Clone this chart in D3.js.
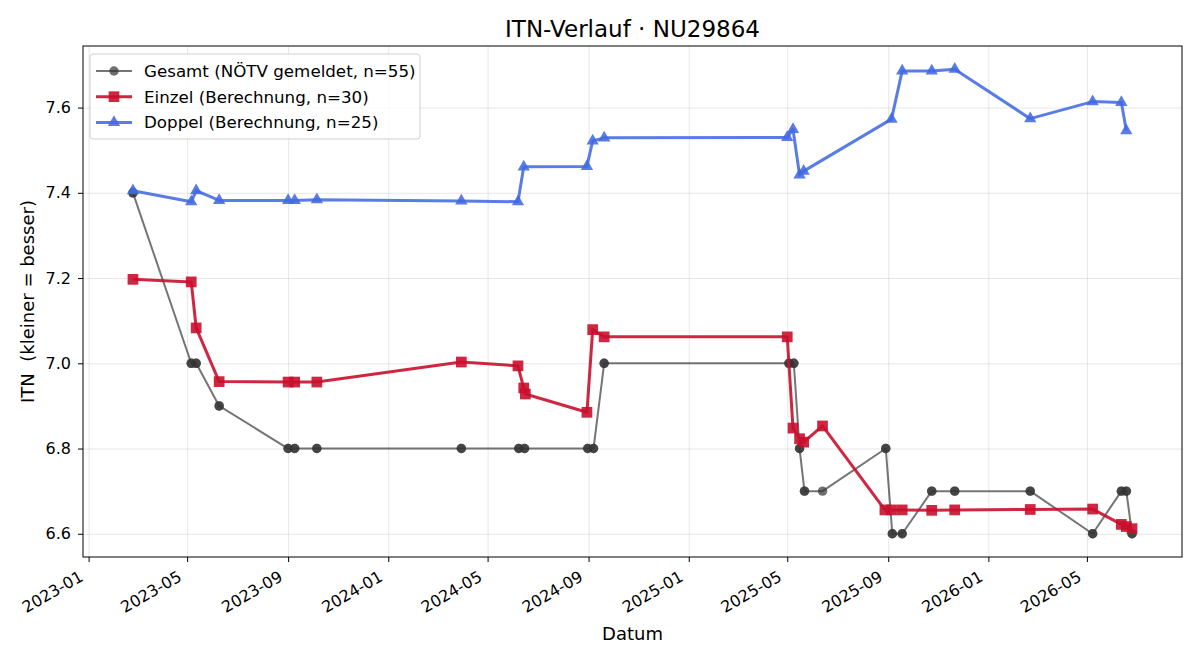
<!DOCTYPE html>
<html>
<head>
<meta charset="utf-8">
<script src="https://cdn.jsdelivr.net/npm/d3@7"></script>
<style>
    body { margin: 0; background: #fff; }
    text { font-family: "DejaVu Sans", sans-serif; fill: #000; }
    .grid line { stroke: #b0b0b0; stroke-opacity: 0.3; }
    .grid path { display: none; }
    .axis path, .axis line { stroke: #000; }
</style>
</head>
<body>
<div id="chart"></div>
<script>

// dates of the tournaments (shared by all series where present)
const gesamtDates = ["2023-02-24", "2023-05-06", "2023-05-12", "2023-06-09", "2023-09-01", "2023-09-09",
    "2023-10-06", "2024-03-30", "2024-06-08", "2024-06-15", "2024-08-31", "2024-09-07", "2024-09-20",
    "2025-05-03", "2025-05-09", "2025-05-16", "2025-05-22", "2025-06-13", "2025-08-29", "2025-09-06",
    "2025-09-18", "2025-10-24", "2025-11-21", "2026-02-21", "2026-05-08", "2026-06-12", "2026-06-18",
    "2026-06-25"];
const gesamtValues = [7.4, 7.0, 7.0, 6.9, 6.8, 6.8, 6.8, 6.8, 6.8, 6.8, 6.8, 6.8, 7.0, 7.0, 7.0, 6.8,
    6.7, 6.7, 6.8, 6.6, 6.6, 6.7, 6.7, 6.7, 6.6, 6.7, 6.7, 6.6];
// number of reported entries per date (singles + doubles on the same day)
const gesamtCount = [2, 2, 2, 2, 2, 2, 2, 2, 2, 2, 2, 2, 2, 2, 2, 2, 2, 1, 2, 2, 2, 2, 2, 2, 2, 2, 2, 2];

const einzelDates = ["2023-02-24", "2023-05-06", "2023-05-12", "2023-06-09", "2023-09-01", "2023-09-09",
    "2023-10-06", "2024-03-30", "2024-06-07", "2024-06-14", "2024-06-16", "2024-08-30", "2024-09-06",
    "2024-09-20", "2025-05-01", "2025-05-08", "2025-05-16", "2025-05-21", "2025-06-13", "2025-08-28",
    "2025-09-05", "2025-09-18", "2025-10-24", "2025-11-21", "2026-02-21", "2026-05-08", "2026-06-12",
    "2026-06-18", "2026-06-25"];
const einzelValues = [7.197, 7.191, 7.083, 6.957, 6.956, 6.956, 6.956, 7.003, 6.994, 6.942, 6.928,
    6.885, 7.079, 7.062, 7.062, 6.848, 6.823, 6.815, 6.853, 6.656, 6.656, 6.656, 6.655, 6.656, 6.657,
    6.658, 6.622, 6.617, 6.612];

const doppelDates = ["2023-02-24", "2023-05-06", "2023-05-12", "2023-06-09", "2023-09-01", "2023-09-09",
    "2023-10-06", "2024-03-30", "2024-06-07", "2024-06-14", "2024-08-30", "2024-09-06", "2024-09-20",
    "2025-05-01", "2025-05-08", "2025-05-16", "2025-05-21", "2025-09-05", "2025-09-18", "2025-10-24",
    "2025-11-21", "2026-02-21", "2026-05-08", "2026-06-12", "2026-06-18"];
const doppelValues = [7.405, 7.379, 7.405, 7.382, 7.382, 7.382, 7.384, 7.381, 7.379, 7.461, 7.462,
    7.522, 7.529, 7.530, 7.549, 7.442, 7.451, 7.573, 7.686, 7.686, 7.690, 7.574, 7.614, 7.612, 7.546];

const yTicks = [6.6, 6.8, 7.0, 7.2, 7.4, 7.6];
const seriesLabels = ["Gesamt (NÖTV gemeldet, n=55)", "Einzel (Berechnung, n=30)", "Doppel (Berechnung, n=25)"];

/**********************
***** BASIC SETUP *****
**********************/

const width = 1200;
const height = 660;
const margin = {top: 46, left: 83, right: 18, bottom: 103};

const plotWidth = width - margin.left - margin.right;
const plotHeight = height - margin.top - margin.bottom;

const tickFont = 16;
const labelFont = 18;

const svg = d3.select("#chart")
    .append("svg")
    .attr("width", width)
    .attr("height", height);

const parse = d3.timeParse("%Y-%m-%d");

const gesamt = gesamtDates.map((d, i) => ({date: parse(d), value: gesamtValues[i], n: gesamtCount[i]}));
const einzel = einzelDates.map((d, i) => ({date: parse(d), value: einzelValues[i]}));
const doppel = doppelDates.map((d, i) => ({date: parse(d), value: doppelValues[i]}));

const series = [
    {key: "gesamt", data: gesamt, color: "#333333", lineWidth: 2, lineOpacity: 0.68, markerOpacity: 0.7, symbol: d3.symbolCircle, size: 70},
    {key: "einzel", data: einzel, color: "#C8102E", lineWidth: 3, lineOpacity: 0.9, markerOpacity: 0.9, symbol: d3.symbolSquare, size: 115},
    {key: "doppel", data: doppel, color: "#4169E1", lineWidth: 3, lineOpacity: 0.87, markerOpacity: 0.87, symbol: d3.symbolTriangle, size: 66}
];

/***********************
***** X & Y SCALES *****
***********************/

// matplotlib-style 5% padding around the data
const allPoints = gesamt.concat(einzel, doppel);
const tExt = d3.extent(allPoints, d => +d.date);
const tPad = (tExt[1] - tExt[0]) * 0.05;
const vExt = d3.extent(allPoints, d => d.value);
const vPad = (vExt[1] - vExt[0]) * 0.05;

const xScale = d3.scaleTime()
    .domain([new Date(tExt[0] - tPad), new Date(tExt[1] + tPad)])
    .range([0, plotWidth]);

const yScale = d3.scaleLinear()
    .domain([vExt[0] - vPad, vExt[1] + vPad])
    .range([plotHeight, 0]);

const plot = svg.append("g")
    .attr("transform", `translate(${margin.left}, ${margin.top})`);

/*******************
***** GRIDLINES *****
*******************/

const xTickValues = xScale.ticks(d3.timeMonth.every(4));

plot.append("g")
    .attr("class", "grid")
    .attr("transform", `translate(0, ${plotHeight})`)
    .call(d3.axisBottom(xScale)
        .tickValues(xTickValues)
        .tickSize(-plotHeight)
        .tickFormat(""));

plot.append("g")
    .attr("class", "grid")
    .call(d3.axisLeft(yScale)
        .tickValues(yTicks)
        .tickSize(-plotWidth)
        .tickFormat(""));

/****************************
***** LINES AND MARKERS *****
****************************/

const line = d3.line()
    .x(d => xScale(d.date))
    .y(d => yScale(d.value));

series.forEach(s => {
    const g = plot.append("g").attr("class", s.key);

    g.append("path")
        .datum(s.data)
        .attr("fill", "none")
        .attr("stroke", s.color)
        .attr("stroke-width", s.lineWidth)
        .attr("stroke-opacity", s.lineOpacity)
        .attr("stroke-linejoin", "round")
        .attr("d", line);

    // one marker per reported entry, so repeated dates stack darker
    const marks = [];
    s.data.forEach(d => {
        for (let k = 0; k < (d.n || 1); k++) marks.push(d);
    });

    g.selectAll(".marker")
        .data(marks)
        .enter()
        .append("path")
        .attr("class", "marker")
        .attr("d", d3.symbol().type(s.symbol).size(s.size))
        .attr("transform", d => `translate(${xScale(d.date)}, ${yScale(d.value)})`)
        .attr("fill", s.color)
        .attr("fill-opacity", s.markerOpacity);
});

/*************************
***** AXES AND FRAME *****
*************************/

const xaxis = plot.append("g")
    .attr("class", "axis")
    .attr("transform", `translate(0, ${plotHeight})`)
    .call(d3.axisBottom(xScale)
        .tickValues(xTickValues)
        .tickSize(5)
        .tickFormat(d3.timeFormat("%Y-%m")));

xaxis.select(".domain").remove();

// rotated labels: upper-right corner of the text box sits under the tick
xaxis.selectAll("text")
    .attr("font-size", tickFont)
    .attr("text-anchor", "end")
    .attr("dy", null)
    .attr("y", 0)
    .attr("transform", `translate(${-0.5 * 0.236 * tickFont - 3}, ${10 + 0.866 * 0.928 * tickFont}) rotate(-30)`);

const yaxis = plot.append("g")
    .attr("class", "axis")
    .call(d3.axisLeft(yScale)
        .tickValues(yTicks)
        .tickSize(5)
        .tickPadding(7)
        .tickFormat(d3.format(".1f")));

yaxis.select(".domain").remove();
yaxis.selectAll("text").attr("font-size", tickFont);

plot.append("rect")
    .attr("width", plotWidth)
    .attr("height", plotHeight)
    .attr("fill", "none")
    .attr("stroke", "#000")
    .attr("stroke-width", 1);

/*************************
***** TITLE, LABELS *****
*************************/

svg.append("text")
    .attr("x", margin.left + plotWidth / 2)
    .attr("y", 37)
    .attr("text-anchor", "middle")
    .attr("font-size", 23)
    .text("ITN-Verlauf · NU29864");

svg.append("text")
    .attr("x", margin.left + plotWidth / 2)
    .attr("y", 640)
    .attr("text-anchor", "middle")
    .attr("font-size", labelFont)
    .text("Datum");

svg.append("text")
    .attr("transform", `translate(34, ${margin.top + plotHeight / 2}) rotate(-90)`)
    .attr("text-anchor", "middle")
    .attr("font-size", labelFont)
    .attr("xml:space", "preserve")
    .style("white-space", "pre")
    .text("ITN  (kleiner = besser)");

/*****************
***** LEGEND *****
*****************/

const legend = svg.append("g")
    .attr("transform", "translate(90, 54)");

legend.append("rect")
    .attr("width", 330)
    .attr("height", 85)
    .attr("rx", 3)
    .attr("fill", "#fff")
    .attr("fill-opacity", 0.8)
    .attr("stroke", "#d0d0d0");

const rows = legend.selectAll(".legendRow")
    .data(series)
    .enter()
    .append("g")
    .attr("class", "legendRow")
    .attr("transform", (d, i) => `translate(0, ${17 + i * 25.7})`);

rows.append("line")
    .attr("x1", 6)
    .attr("x2", 42)
    .attr("stroke", d => d.color)
    .attr("stroke-width", d => d.lineWidth)
    .attr("stroke-opacity", d => d.lineOpacity);

rows.append("path")
    .attr("d", d => d3.symbol().type(d.symbol).size(d.size)())
    .attr("transform", "translate(24, 0)")
    .attr("fill", d => d.color)
    .attr("fill-opacity", d => d.markerOpacity);

rows.append("text")
    .attr("x", 54)
    .attr("dy", "0.35em")
    .attr("font-size", 16.7)
    .text((d, i) => seriesLabels[i]);

</script>
</body>
</html>
